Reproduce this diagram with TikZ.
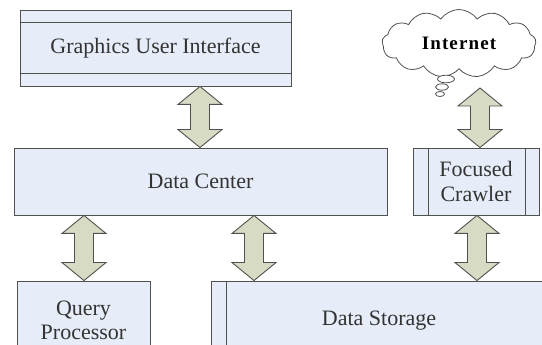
\documentclass[tikz,border=0pt]{standalone}
\usepackage{fontspec}
\setmainfont{Liberation Serif}
\usetikzlibrary{shapes.symbols}
\definecolor{boxfill}{HTML}{E6ECF8}
\definecolor{boxline}{HTML}{505050}
\definecolor{arrfill}{HTML}{D8DBC4}
\tikzset{
  blockbox/.style={draw=boxline, line width=0.9pt, fill=boxfill, rectangle, inner sep=0pt, font=\fontsize{22}{24.5}\selectfont, align=center, text=black!80},
  blockarrow/.style={draw=boxline, line width=0.9pt, fill=arrfill, line join=miter,
    to path={(\tikztostart) -- ([xshift=22pt,yshift=-18pt]\tikztostart) -- ([xshift=9.5pt,yshift=-18pt]\tikztostart)
      -- ([xshift=9.5pt,yshift=18pt]\tikztotarget) -- ([xshift=22pt,yshift=18pt]\tikztotarget) -- (\tikztotarget)
      -- ([xshift=-22pt,yshift=18pt]\tikztotarget) -- ([xshift=-9.5pt,yshift=18pt]\tikztotarget)
      -- ([xshift=-9.5pt,yshift=-18pt]\tikztostart) -- ([xshift=-22pt,yshift=-18pt]\tikztostart) -- cycle}},
  bubble/.style={draw=boxline, line width=0.8pt, fill=white}
}
\begin{document}
\begin{tikzpicture}[x=1pt,y=-1pt]
\useasboundingbox (0,0) rectangle (542,345);
\clip (0,0) rectangle (542,345);
% boxes
\node[blockbox, minimum width=271pt, minimum height=76pt] (gui) at (155.5,48) {Graphics User Interface};
\draw[boxline, line width=0.9pt] ([yshift=-13pt]gui.north west) -- ([yshift=-13pt]gui.north east);
\draw[boxline, line width=0.9pt] ([yshift=13pt]gui.south west) -- ([yshift=13pt]gui.south east);
\node[blockbox, minimum width=373pt, minimum height=67pt] (dc) at (200.5,181.5) {Data Center};
\node[blockbox, minimum width=126pt, minimum height=67pt] (fc) at (476,181.5) {Focused\\Crawler};
\draw[boxline, line width=0.9pt] ([xshift=16pt]fc.north west) -- ([xshift=16pt]fc.south west);
\draw[boxline, line width=0.9pt] ([xshift=-14pt]fc.north east) -- ([xshift=-14pt]fc.south east);
\node[blockbox, minimum width=133pt, minimum height=79pt] (qp) at (83.5,320.5) {Query\\Processor};
\node[blockbox, minimum width=336pt, minimum height=79pt] (ds) at (379,320.5) {Data Storage};
\draw[boxline, line width=0.9pt] ([xshift=16pt]ds.north west) -- ([xshift=16pt]ds.south west);
% cloud
\node[cloud, cloud puffs=13, cloud puff arc=110, aspect=2.6, draw=boxline, line width=0.8pt, fill=white,
  minimum width=154pt, minimum height=68pt, inner sep=0pt, font=\fontsize{19}{22}\selectfont\bfseries\addfontfeatures{LetterSpace=6}] (net) at (459,43.5) {Internet};
\draw[bubble] (446,79) ellipse (8.5pt and 3.8pt);
\draw[bubble] (442,87) ellipse (6.5pt and 3.2pt);
\draw[bubble] (440,94) ellipse (4.5pt and 2.5pt);
% arrow x positions
\coordinate (x1) at (200,0);
\coordinate (x2) at (480,0);
\coordinate (x3) at (84,0);
\coordinate (x4) at (254,0);
\coordinate (x5) at (477,0);
\coordinate (a1t) at (gui.south -| x1);
\coordinate (a1b) at (dc.north -| x1);
\coordinate (a2t) at (480,88);
\coordinate (a2b) at (fc.north -| x2);
\coordinate (a3t) at (dc.south -| x3);
\coordinate (a3b) at (qp.north -| x3);
\coordinate (a4t) at (dc.south -| x4);
\coordinate (a4b) at (ds.north -| x4);
\coordinate (a5t) at (fc.south -| x5);
\coordinate (a5b) at (ds.north -| x5);
\draw[blockarrow] (a1t) to (a1b);
\draw[blockarrow] (a2t) to (a2b);
\draw[blockarrow] (a3t) to (a3b);
\draw[blockarrow] (a4t) to (a4b);
\draw[blockarrow] (a5t) to (a5b);
\end{tikzpicture}
\end{document}
